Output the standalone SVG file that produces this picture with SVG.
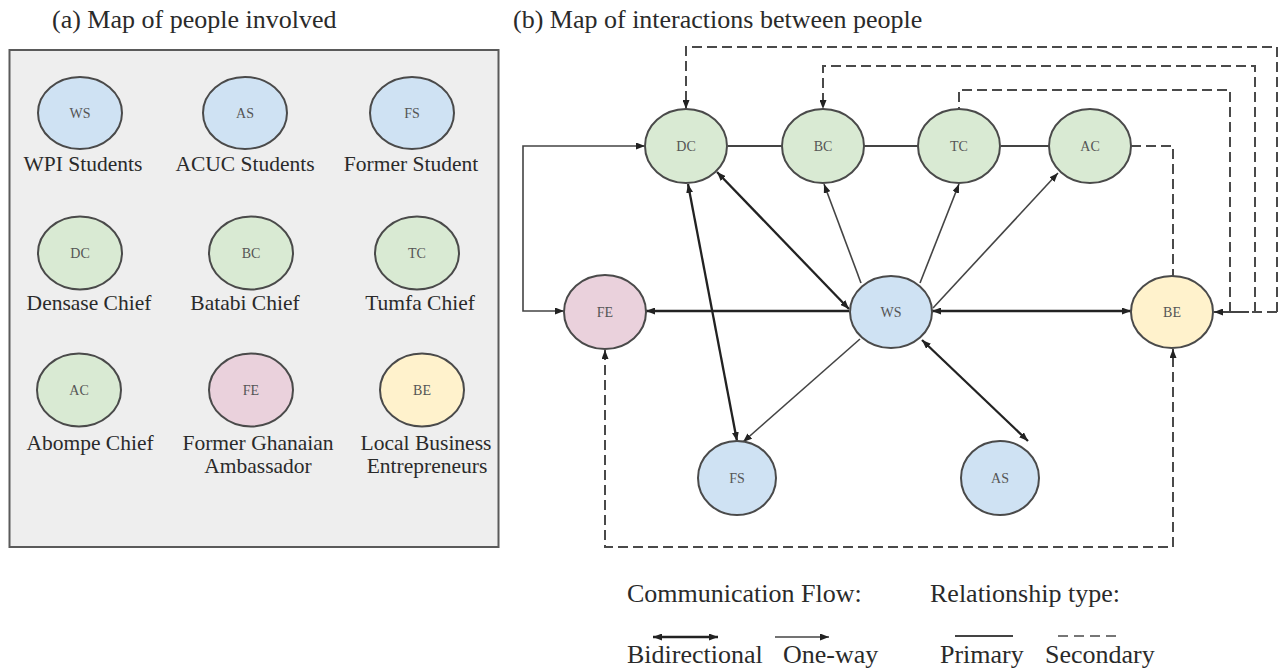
<svg xmlns="http://www.w3.org/2000/svg" width="1279" height="670" viewBox="0 0 1279 670">
<style>
  .t { font-family: "Liberation Serif", "Times New Roman", serif; fill: #2a2a2a; }
  .title { font-size: 26px; }
  .lbl { font-size: 21.5px; text-anchor: middle; }
  .leg { font-size: 26px; }
  .in { font-family: "Liberation Serif", "Times New Roman", serif; font-size: 14px; fill: #555; text-anchor: middle; }
  .n { stroke: #4a4a4a; stroke-width: 2; }
  .blue { fill: #cfe2f3; }
  .green { fill: #d9ead3; }
  .pink { fill: #ead1dc; }
  .yellow { fill: #fff2cc; }
  .one { fill: none; stroke: #444; stroke-width: 1.6; }
  .bi { fill: none; stroke: #222; stroke-width: 2.3; }
  .pri { fill: none; stroke: #444; stroke-width: 1.8; }
  .sec { fill: none; stroke: #4a4a4a; stroke-width: 2; stroke-dasharray: 10 5; }
</style>
<defs>
  <marker id="arr" viewBox="0 0 9 7" refX="9" refY="3.5" markerWidth="9" markerHeight="7" markerUnits="userSpaceOnUse" orient="auto-start-reverse">
    <path d="M0,0 L9,3.5 L0,7 z" fill="#222"/>
  </marker>
</defs>

<!-- (a) panel -->
<text class="t title" x="52" y="28">(a) Map of people involved</text>
<rect x="9.5" y="50" width="489" height="497" fill="#eeeeee" stroke="#5a5a5a" stroke-width="2"/>

<g id="legend-WS">
  <ellipse class="n blue" cx="80" cy="113" rx="42" ry="36"/>
  <text class="in" x="80" y="118">WS</text>
  <text class="t lbl" x="83" y="171">WPI Students</text>
</g>
<g id="legend-AS">
  <ellipse class="n blue" cx="245" cy="113" rx="42" ry="36"/>
  <text class="in" x="245" y="118">AS</text>
  <text class="t lbl" x="245" y="171">ACUC Students</text>
</g>
<g id="legend-FS">
  <ellipse class="n blue" cx="412" cy="113" rx="42" ry="36"/>
  <text class="in" x="412" y="118">FS</text>
  <text class="t lbl" x="411" y="171">Former Student</text>
</g>
<g id="legend-DC">
  <ellipse class="n green" cx="80" cy="253" rx="42" ry="36.5"/>
  <text class="in" x="80" y="258">DC</text>
  <text class="t lbl" x="89" y="310">Densase Chief</text>
</g>
<g id="legend-BC">
  <ellipse class="n green" cx="251" cy="253" rx="42" ry="36.5"/>
  <text class="in" x="251" y="258">BC</text>
  <text class="t lbl" x="245" y="310">Batabi Chief</text>
</g>
<g id="legend-TC">
  <ellipse class="n green" cx="417" cy="253" rx="42" ry="36.5"/>
  <text class="in" x="417" y="258">TC</text>
  <text class="t lbl" x="420" y="310">Tumfa Chief</text>
</g>
<g id="legend-AC">
  <ellipse class="n green" cx="79" cy="390" rx="42" ry="36.5"/>
  <text class="in" x="79" y="395">AC</text>
  <text class="t lbl" x="90" y="450">Abompe Chief</text>
</g>
<g id="legend-FE">
  <ellipse class="n pink" cx="251" cy="390" rx="42" ry="36.5"/>
  <text class="in" x="251" y="395">FE</text>
  <text class="t lbl" x="258" y="450">Former Ghanaian</text>
  <text class="t lbl" x="258" y="473">Ambassador</text>
</g>
<g id="legend-BE">
  <ellipse class="n yellow" cx="422" cy="390" rx="42" ry="36.5"/>
  <text class="in" x="422" y="395">BE</text>
  <text class="t lbl" x="426" y="450">Local Business</text>
  <text class="t lbl" x="427" y="473">Entrepreneurs</text>
</g>

<!-- (b) panel -->
<text class="t title" x="513" y="28">(b) Map of interactions between people</text>

<g id="connectors">
  <!-- primary chief chain -->
  <path class="pri" d="M728,146 H782 M864,146 H918 M1001,146 H1049"/>
  <!-- secondary dashed -->
  <path class="sec" d="M1131,146 H1173 V276"/>
  <path class="sec" d="M1230,312 V90 H959 V109"/>
  <path class="sec" d="M1255,312 V66 H823 V109" marker-end="url(#arr)"/>
  <path class="sec" d="M1277,312 V47 H686 V109" marker-end="url(#arr)"/>
  <path class="sec" d="M1277,312 H1249"/>
  <path class="pri" d="M1249,312 H1214" marker-end="url(#arr)"/>
  <path class="sec" d="M605,350 V547 H1173 V349" marker-start="url(#arr)" marker-end="url(#arr)"/>
  <!-- DC / FE elbow -->
  <path class="one" d="M645,146 H523 V311 H564" marker-start="url(#arr)" marker-end="url(#arr)"/>
  <!-- WS connections -->
  <path class="bi" d="M849,311 H646" marker-end="url(#arr)"/>
  <path class="bi" d="M932,311 H1131" marker-start="url(#arr)" marker-end="url(#arr)"/>
  <path class="bi" d="M717,172 L849,309" marker-start="url(#arr)" marker-end="url(#arr)"/>
  <path class="bi" d="M688,184 L737,441" marker-start="url(#arr)" marker-end="url(#arr)"/>
  <path class="one" d="M861,283 L824,184" marker-end="url(#arr)"/>
  <path class="one" d="M920,283 L959,184" marker-end="url(#arr)"/>
  <path class="one" d="M933,308 L1058,173" marker-end="url(#arr)"/>
  <path class="one" d="M860,339 L743,442" marker-end="url(#arr)"/>
  <path class="bi" d="M922,340 L1028,441" marker-start="url(#arr)" marker-end="url(#arr)"/>
</g>

<g id="node-DC">
  <ellipse class="n green" cx="686" cy="146" rx="41" ry="37"/>
  <text class="in" x="686" y="151">DC</text>
</g>
<g id="node-BC">
  <ellipse class="n green" cx="823" cy="146" rx="41" ry="37"/>
  <text class="in" x="823" y="151">BC</text>
</g>
<g id="node-TC">
  <ellipse class="n green" cx="959" cy="146" rx="41" ry="37"/>
  <text class="in" x="959" y="151">TC</text>
</g>
<g id="node-AC">
  <ellipse class="n green" cx="1090" cy="146" rx="41" ry="37"/>
  <text class="in" x="1090" y="151">AC</text>
</g>
<g id="node-FE">
  <ellipse class="n pink" cx="605" cy="312" rx="41" ry="37"/>
  <text class="in" x="605" y="317">FE</text>
</g>
<g id="node-WS">
  <ellipse class="n blue" cx="891" cy="312" rx="41" ry="36"/>
  <text class="in" x="891" y="317">WS</text>
</g>
<g id="node-BE">
  <ellipse class="n yellow" cx="1172" cy="312" rx="41" ry="36"/>
  <text class="in" x="1172" y="317">BE</text>
</g>
<g id="node-FS">
  <ellipse class="n blue" cx="737" cy="478" rx="39" ry="37"/>
  <text class="in" x="737" y="483">FS</text>
</g>
<g id="node-AS">
  <ellipse class="n blue" cx="1000" cy="478" rx="39" ry="37"/>
  <text class="in" x="1000" y="483">AS</text>
</g>

<g id="legend">
  <text class="t leg" x="627" y="602">Communication Flow:</text>
  <text class="t leg" x="930" y="602">Relationship type:</text>
  <path class="bi" d="M653,637 H718" marker-start="url(#arr)" marker-end="url(#arr)"/>
  <path class="one" d="M775,637 H829" marker-end="url(#arr)"/>
  <path class="pri" d="M955,636 H1013"/>
  <path class="sec" d="M1058,636 H1118" style="stroke-dasharray: 10 6; stroke-width: 1.6"/>
  <text class="t leg" x="627" y="663">Bidirectional</text>
  <text class="t leg" x="783" y="663">One-way</text>
  <text class="t leg" x="940" y="663">Primary</text>
  <text class="t leg" x="1045" y="663">Secondary</text>
</g>
</svg>
